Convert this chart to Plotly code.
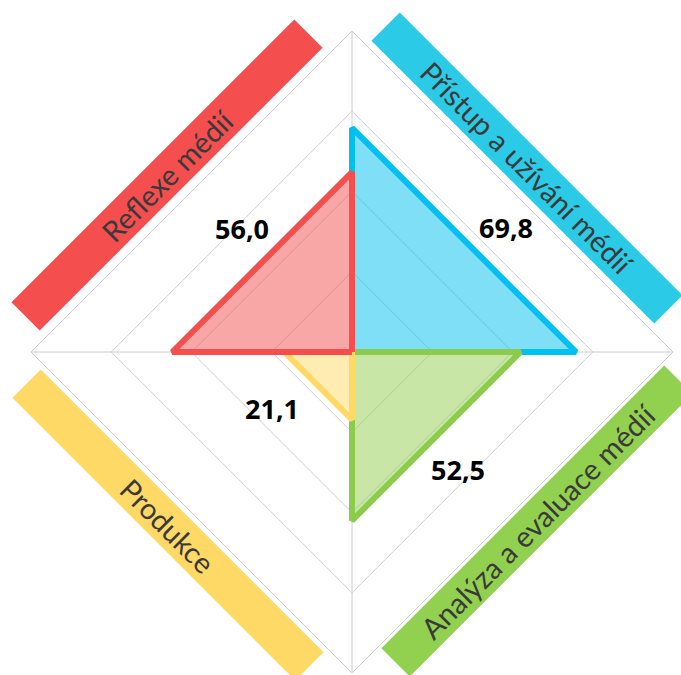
import math
import plotly.graph_objects as go

# Spokes of the diamond (clockwise from the top)
spokes = ["N", "E", "S", "W"]

# Domains: name, value, spoke pair spanned by the triangle
domains = ["Přístup a užívání médií", "Analýza a evaluace médií", "Produkce", "Reflexe médií"]
values = [69.8, 52.5, 21.1, 56.0]
spans = [("N", "E"), ("E", "S"), ("S", "W"), ("W", "N")]

line_colors = ["#00C0EF", "#8DCB4E", "#FFD966", "#F44E4E"]
fill_colors = ["rgba(0,192,239,0.5)", "rgba(146,208,80,0.5)",
               "rgba(255,217,102,0.5)", "rgba(244,78,78,0.5)"]
band_colors = ["#2BCAE6", "#92D050", "#FFD966", "#F44E4E"]

grid_levels = [25, 50, 75, 100]

# Plot-area geometry in pixels
W, H = 681, 675
ML, MR, MT, MB = 31, 8, 31, 2
PW = W - ML - MR
PH = H - MT - MB
CX, CY = ML + PW / 2, MT + PH / 2


def paper(px, py):
    return (px - ML) / PW, (H - MB - py) / PH


fig = go.Figure()

# Draw order: blue, green, yellow, red on top
for name, v, (a, b), lc, fc in zip(domains, values, spans, line_colors, fill_colors):
    fig.add_trace(go.Scatterpolar(
        r=[0, v, v, 0], theta=[a, a, b, a],
        mode="lines", fill="toself", fillcolor=fc,
        line=dict(color=lc, width=6), name=name,
        hoverinfo="skip", showlegend=False,
    ))

# Value labels outside each triangle (offsets from the centre, px)
label_offsets = [(154, -125), (106, 117), (-80, 57), (-110, -124)]
for v, (dx, dy) in zip(values, label_offsets):
    x, y = paper(CX + dx, CY + dy)
    fig.add_annotation(
        x=x, y=y, xref="paper", yref="paper", showarrow=False,
        xanchor="center", yanchor="middle",
        text=f"{v:.1f}".replace(".", ","),
        font=dict(family="Open Sans", size=27, color="#000000", weight="bold"),
    )

# Rotated coloured bands carrying the domain names
band_centers = [(527, 168), (537, 521), (168, 525), (167, 175)]
band_angles = [45, -45, 45, -45]  # degrees, clockwise-positive like textangle
band_len, band_thick = 400, 40
shapes = []
for name, col, (bx, by), ang in zip(domains, band_colors, band_centers, band_angles):
    t = math.radians(ang)
    ux, uy = math.cos(t), math.sin(t)
    nx, ny = -uy, ux
    hl, ht = band_len / 2, band_thick / 2
    corners = [
        (bx - hl * ux - ht * nx, by - hl * uy - ht * ny),
        (bx + hl * ux - ht * nx, by + hl * uy - ht * ny),
        (bx + hl * ux + ht * nx, by + hl * uy + ht * ny),
        (bx - hl * ux + ht * nx, by - hl * uy + ht * ny),
    ]
    pts = [paper(px, py) for px, py in corners]
    path = "M " + " L ".join(f"{x:.5f},{y:.5f}" for x, y in pts) + " Z"
    shapes.append(dict(type="path", path=path, xref="paper", yref="paper",
                       fillcolor=col, line=dict(width=0), layer="below"))
    x, y = paper(bx, by)
    fig.add_annotation(
        x=x, y=y, xref="paper", yref="paper", showarrow=False,
        xanchor="center", yanchor="middle",
        text=name, textangle=ang,
        font=dict(family="Lato", size=29, color="#3A3A3A"),
    )

fig.update_layout(
    width=W, height=H,
    margin=dict(l=ML, r=MR, t=MT, b=MB),
    paper_bgcolor="white",
    shapes=shapes,
    polar=dict(
        bgcolor="white",
        gridshape="linear",
        domain=dict(x=[0, 1], y=[0, 1]),
        radialaxis=dict(range=[0, 100], tickvals=grid_levels, showticklabels=False,
                        ticks="", showline=False, gridcolor="#CCCCCC", gridwidth=1),
        angularaxis=dict(type="category", categoryarray=spokes, rotation=90,
                         direction="clockwise", showticklabels=False, ticks="",
                         showline=True, linecolor="#CCCCCC", linewidth=1,
                         gridcolor="#CCCCCC", gridwidth=1),
    ),
)

fig.write_html("out.html")
